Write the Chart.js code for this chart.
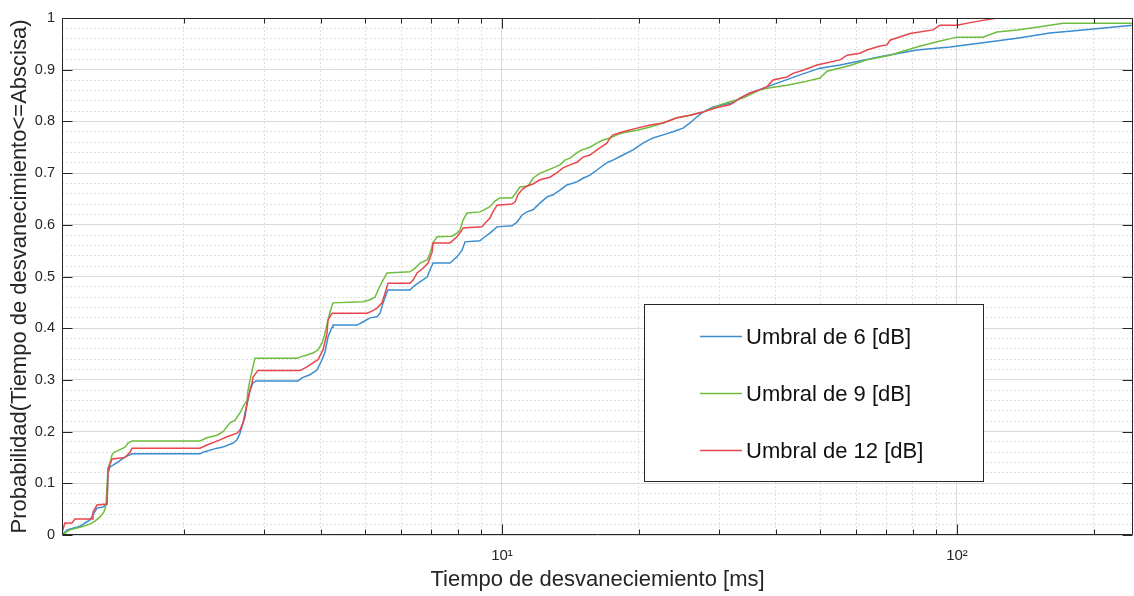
<!DOCTYPE html>
<html><head><meta charset="utf-8">
<script src="https://cdn.jsdelivr.net/npm/chart.js@4"></script>
<style>html,body{margin:0;padding:0;background:#fff}#wrap{width:1134px;height:596px}</style>
</head><body><div id="wrap"><canvas id="c" width="1134" height="596"></canvas></div>
<script>
// ---- Data ----
const seriesNames = ['Umbral de 6 [dB]', 'Umbral de 9 [dB]', 'Umbral de 12 [dB]'];
const seriesColors = ['#3b8dd0', '#6fbd3e', '#e8464d'];

// Umbral de 6 [dB]
const t6 = [1.079,1.107,1.182,1.243,1.262,1.288,1.328,1.355,1.362,1.376,1.397,1.432,1.484,1.538,2.169,2.202,2.364,2.437,2.564,2.616,2.656,2.697,2.724,2.766,2.794,2.836,2.880,3.561,3.634,3.784,3.921,4.022,4.083,4.146,4.231,4.252,4.801,4.949,5.127,5.313,5.395,5.478,5.590,5.619,6.281,6.377,6.541,6.846,6.950,7.057,7.688,7.966,8.170,8.296,8.948,9.080,9.410,9.750,10.52,10.79,11.07,11.35,11.70,12.12,12.56,12.95,13.41,13.89,14.61,15.07,15.61,16.17,17.01,17.54,18.45,19.41,20.41,21.47,22.59,23.76,25.00,25.90,26.83,27.66,29.09,30.60,32.19,33.36,35.09,36.90,40.83,45.18,50.00,55.34,61.21,67.73,81.66,96.52,114.0,135.5,160.1,189.2,224.7,243.7];
const p6 = [0,0.01,0.017,0.029,0.039,0.052,0.054,0.06,0.12,0.132,0.135,0.141,0.151,0.157,0.157,0.16,0.168,0.17,0.178,0.184,0.197,0.217,0.236,0.261,0.28,0.294,0.298,0.298,0.304,0.31,0.319,0.339,0.354,0.383,0.402,0.406,0.406,0.412,0.42,0.422,0.429,0.449,0.47,0.474,0.474,0.48,0.487,0.499,0.513,0.526,0.526,0.538,0.551,0.567,0.569,0.574,0.584,0.596,0.598,0.605,0.619,0.625,0.629,0.642,0.654,0.658,0.667,0.677,0.683,0.69,0.696,0.706,0.72,0.725,0.735,0.745,0.758,0.768,0.774,0.78,0.787,0.797,0.809,0.818,0.828,0.832,0.836,0.845,0.855,0.862,0.876,0.89,0.903,0.909,0.917,0.925,0.938,0.944,0.952,0.961,0.971,0.977,0.983,0.986];

// Umbral de 9 [dB]
const t9 = [1.079,1.123,1.182,1.243,1.275,1.308,1.335,1.348,1.362,1.376,1.390,1.404,1.447,1.484,1.507,1.538,2.169,2.247,2.364,2.437,2.525,2.590,2.656,2.697,2.752,2.766,2.794,2.836,2.865,3.544,3.597,3.727,3.842,3.941,4.022,4.083,4.146,4.188,4.252,4.949,5.127,5.259,5.340,5.478,5.590,6.281,6.442,6.607,6.846,6.950,7.057,7.200,7.766,7.966,8.088,8.212,8.381,8.948,9.080,9.410,9.652,9.899,10.52,10.68,10.95,11.41,11.70,12.12,12.56,12.95,13.41,13.75,14.11,14.61,14.99,15.61,16.17,16.67,17.28,17.89,18.45,19.81,21.15,22.59,24.25,25.90,27.66,30.14,31.70,33.87,36.90,38.82,42.30,45.87,50.00,51.80,58.21,63.41,67.73,71.25,81.66,90.37,100,114.0,122.4,135.5,152.2,171.0,243.7];
const p9 = [0,0.01,0.015,0.021,0.027,0.035,0.045,0.058,0.13,0.14,0.155,0.16,0.165,0.17,0.178,0.182,0.182,0.188,0.193,0.2,0.217,0.222,0.236,0.248,0.261,0.28,0.3,0.325,0.342,0.342,0.344,0.348,0.352,0.358,0.371,0.39,0.416,0.431,0.449,0.451,0.455,0.46,0.474,0.493,0.507,0.509,0.516,0.526,0.532,0.545,0.565,0.577,0.578,0.584,0.59,0.609,0.623,0.625,0.628,0.635,0.646,0.652,0.652,0.659,0.673,0.675,0.69,0.7,0.705,0.71,0.716,0.725,0.729,0.739,0.745,0.75,0.758,0.764,0.768,0.774,0.778,0.783,0.789,0.797,0.807,0.812,0.818,0.832,0.838,0.845,0.861,0.865,0.87,0.876,0.884,0.897,0.908,0.919,0.924,0.928,0.944,0.954,0.963,0.963,0.973,0.977,0.983,0.99,0.99];

// Umbral de 12 [dB]
const t12 = [1.079,1.095,1.135,1.152,1.256,1.262,1.288,1.355,1.362,1.390,1.484,1.522,1.538,2.169,2.247,2.400,2.486,2.616,2.656,2.697,2.724,2.752,2.794,2.822,2.836,2.894,2.909,3.597,3.727,3.842,3.941,4.042,4.125,4.146,4.231,5.050,5.180,5.313,5.450,5.534,5.619,6.281,6.377,6.508,6.708,6.880,7.021,7.057,7.688,7.966,8.170,8.212,9.036,9.176,9.410,9.554,9.750,10.52,10.68,10.84,11.07,11.35,11.70,12.12,12.75,13.21,13.62,14.11,14.61,15.07,15.61,16.17,17.01,17.28,17.54,18.45,19.81,21.15,22.59,24.25,25.90,27.66,29.68,31.70,33.36,35.09,36.90,38.23,39.41,42.30,43.61,45.87,49.24,55.34,57.33,61.21,63.41,67.73,70.18,71.25,78.82,88.58,91.76,100,108.4,122.4,243.7];
const p12 = [0.005,0.023,0.023,0.031,0.031,0.044,0.058,0.06,0.126,0.147,0.15,0.16,0.168,0.168,0.174,0.184,0.19,0.197,0.203,0.217,0.228,0.255,0.28,0.294,0.305,0.316,0.318,0.318,0.325,0.333,0.339,0.358,0.39,0.416,0.429,0.429,0.433,0.439,0.449,0.468,0.487,0.487,0.493,0.507,0.516,0.526,0.547,0.565,0.565,0.577,0.59,0.594,0.596,0.603,0.613,0.625,0.638,0.64,0.644,0.658,0.668,0.675,0.679,0.687,0.692,0.701,0.71,0.716,0.721,0.731,0.735,0.745,0.758,0.768,0.774,0.78,0.787,0.793,0.797,0.807,0.812,0.818,0.827,0.832,0.845,0.855,0.861,0.867,0.88,0.886,0.893,0.899,0.909,0.919,0.928,0.932,0.938,0.946,0.948,0.957,0.97,0.977,0.986,0.986,0.992,1,1];

// Ticks
const xTickValues = [2,3,4,5,6,7,8,9,10,20,30,40,50,60,70,80,90,100,200];
const xTickLabels = {10: '10\u00B9', 100: '10\u00B2'};
const yTickValues = [0,0.02,0.04,0.06,0.08,0.1,0.12,0.14,0.16,0.18,0.2,0.22,0.24,0.26,0.28,0.3,0.32,0.34,0.36,0.38,0.4,0.42,0.44,0.46,0.48,0.5,0.52,0.54,0.56,0.58,0.6,0.62,0.64,0.66,0.68,0.7,0.72,0.74,0.76,0.78,0.8,0.82,0.84,0.86,0.88,0.9,0.92,0.94,0.96,0.98,1];
const yMajorValues = [0,0.1,0.2,0.3,0.4,0.5,0.6,0.7,0.8,0.9,1];
const yMajorLabels = ['0','0.1','0.2','0.3','0.4','0.5','0.6','0.7','0.8','0.9','1'];
const xTitle = 'Tiempo de desvaneciemiento [ms]';
const yTitle = 'Probabilidad(Tiempo de desvanecimiento<=Abscisa)';

// ---- Chart ----
const FONT = "'Liberation Sans', Arial, Helvetica, sans-serif";
const TEXT = '#262626';
const toPoints = (xs, ys) => xs.map((x, i) => ({x: x, y: ys[i]}));
const yMajorIndex = v => yMajorValues.findIndex(m => Math.abs(m - v) < 1e-9);
const isMajorX = v => xTickLabels[v] !== undefined;

const legendBox = {left: 644, top: 304, right: 983, bottom: 481, rowY: [338, 395, 452], lineX0: 700, lineX1: 742, textX: 746, fontSize: 22};

const axesFrame = {
  id: 'axesFrame',
  afterDraw(chart) {
    const {ctx, chartArea: a} = chart;
    const xs = chart.scales.x, ys = chart.scales.y;
    ctx.save();
    ctx.strokeStyle = TEXT; ctx.lineWidth = 1;
    const L = Math.round(a.left) + 0.5, R = Math.round(a.right) - 0.5;
    const T = Math.round(a.top) + 0.5, B = Math.round(a.bottom) - 0.5;
    ctx.beginPath(); ctx.rect(L, T, R - L, B - T); ctx.stroke();
    ctx.beginPath();
    xTickValues.forEach(v => {
      const px = Math.round(xs.getPixelForValue(v)) + 0.5;
      const len = isMajorX(v) ? 10 : 5;
      ctx.moveTo(px, B); ctx.lineTo(px, B - len);
      ctx.moveTo(px, T); ctx.lineTo(px, T + len);
    });
    yMajorValues.forEach(v => {
      const py = Math.round(ys.getPixelForValue(v)) + 0.5;
      ctx.moveTo(L, py); ctx.lineTo(L + 10, py);
      ctx.moveTo(R, py); ctx.lineTo(R - 10, py);
    });
    ctx.stroke();
    // legend
    const lb = legendBox;
    ctx.fillStyle = '#ffffff';
    ctx.fillRect(lb.left, lb.top, lb.right - lb.left, lb.bottom - lb.top);
    ctx.strokeStyle = TEXT;
    ctx.strokeRect(lb.left + 0.5, lb.top + 0.5, lb.right - lb.left, lb.bottom - lb.top);
    chart.data.datasets.forEach((ds, i) => {
      const yy = lb.rowY[i];
      ctx.strokeStyle = ds.borderColor; ctx.lineWidth = 1.5;
      ctx.beginPath(); ctx.moveTo(lb.lineX0, yy - 1.5); ctx.lineTo(lb.lineX1, yy - 1.5); ctx.stroke();
      ctx.fillStyle = '#111';
      ctx.font = lb.fontSize + 'px ' + FONT;
      ctx.textAlign = 'left'; ctx.textBaseline = 'middle';
      ctx.fillText(ds.label, lb.textX, yy);
    });
    ctx.restore();
  }
};

const datasets = [
  {label: seriesNames[0], data: toPoints(t6, p6), borderColor: seriesColors[0], order: 2},
  {label: seriesNames[1], data: toPoints(t9, p9), borderColor: seriesColors[1], order: 1},
  {label: seriesNames[2], data: toPoints(t12, p12), borderColor: seriesColors[2], order: 0}
].map(d => Object.assign(d, {borderWidth: 1.5, pointRadius: 0, fill: false, tension: 0, backgroundColor: d.borderColor}));

new Chart(document.getElementById('c'), {
  type: 'line',
  data: {datasets: datasets},
  plugins: [axesFrame],
  options: {
    responsive: false, animation: false, devicePixelRatio: 1,
    layout: {padding: {top: 18, right: 1, left: 0, bottom: 0}},
    plugins: {legend: {display: false}, tooltip: {enabled: false}},
    scales: {
      x: {
        type: 'logarithmic', min: t6[0], max: t6[t6.length - 1],
        afterBuildTicks: s => { s.ticks = xTickValues.map(v => ({value: v})); },
        afterFit: s => { s.height = 61; },
        ticks: {autoSkip: false, maxRotation: 0, minRotation: 0, padding: 12, color: TEXT,
          font: {family: FONT, size: 15},
          callback: v => (xTickLabels[v] !== undefined ? xTickLabels[v] : '')},
        grid: {drawTicks: false, lineWidth: 1,
          color: c => (c.tick && isMajorX(c.tick.value)) ? '#d9d9d9' : '#e0e0e0'},
        border: {display: false,
          dash: c => (c.tick && isMajorX(c.tick.value)) ? [] : [2, 2]},
        title: {display: true, text: xTitle, color: TEXT, font: {family: FONT, size: 22}, padding: {top: 0, bottom: 3}}
      },
      y: {
        type: 'linear', min: 0, max: 1,
        afterBuildTicks: s => { s.ticks = yTickValues.map(v => ({value: v})); },
        afterFit: s => { s.width = 62; },
        ticks: {autoSkip: false, padding: 7, color: TEXT, font: {family: FONT, size: 14.5},
          callback: v => { const k = yMajorIndex(v); return k >= 0 ? yMajorLabels[k] : ''; }},
        grid: {drawTicks: false, lineWidth: 1,
          color: c => (c.tick && yMajorIndex(c.tick.value) >= 0) ? '#d9d9d9' : '#e0e0e0'},
        border: {display: false,
          dash: c => (c.tick && yMajorIndex(c.tick.value) >= 0) ? [] : [2, 2]},
        title: {display: true, text: yTitle, color: TEXT, font: {family: FONT, size: 22}, padding: {top: 7, bottom: 0}}
      }
    }
  }
});
</script>
</body></html>
